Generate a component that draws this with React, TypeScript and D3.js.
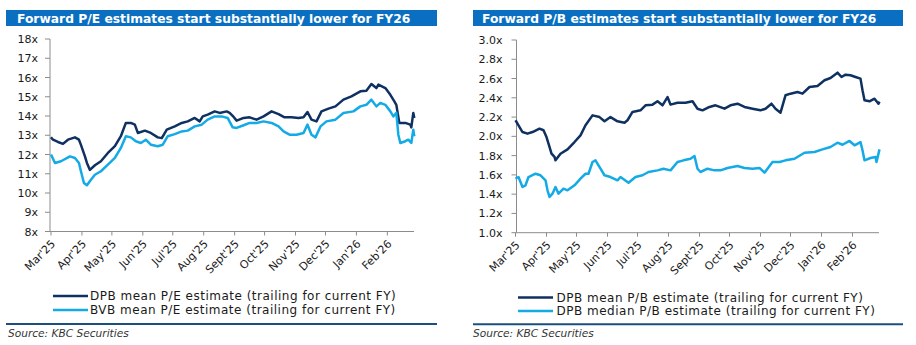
import React from 'react';
import * as d3 from 'd3';

const FONT = "'DejaVu Sans', Verdana, sans-serif";
const DARK = '#0f3161';
const LIGHT = '#14aae6';
const BAR = '#0a6fc0';
const SEP = '#1b4f80';
const AXIS = '#8c8c8c';

const monthTicks = ['2025-03-01','2025-04-01','2025-05-01','2025-06-01','2025-07-01','2025-08-01','2025-09-01','2025-10-01','2025-11-01','2025-12-01','2026-01-01','2026-02-01'];
const monthLabels = ["Mar'25","Apr'25","May'25","Jun'25","Jul'25","Aug'25","Sept'25","Oct'25","Nov'25","Dec'25","Jan'26","Feb'26"];

// Forward P/E — DPB mean
const peMeanDates = ['2025-03-01','2025-03-03','2025-03-08','2025-03-13','2025-03-18','2025-03-25','2025-03-29','2025-03-31','2025-04-04','2025-04-06','2025-04-09','2025-04-14','2025-04-20','2025-04-27','2025-05-04','2025-05-10','2025-05-15','2025-05-20','2025-05-24','2025-05-27','2025-06-03','2025-06-09','2025-06-16','2025-06-20','2025-06-25','2025-07-03','2025-07-10','2025-07-16','2025-07-23','2025-07-28','2025-07-31','2025-08-05','2025-08-12','2025-08-17','2025-08-24','2025-08-27','2025-08-31','2025-09-03','2025-09-10','2025-09-16','2025-09-23','2025-09-30','2025-10-08','2025-10-15','2025-10-21','2025-10-28','2025-11-04','2025-11-09','2025-11-13','2025-11-17','2025-11-22','2025-11-27','2025-12-04','2025-12-11','2025-12-19','2025-12-27','2026-01-05','2026-01-11','2026-01-16','2026-01-21','2026-01-23','2026-01-30','2026-02-04','2026-02-08','2026-02-10','2026-02-13','2026-02-19','2026-02-24','2026-02-25','2026-02-27','2026-02-28'];
const peMeanValues = [12.9,12.77,12.65,12.55,12.77,12.89,12.77,12.5,11.9,11.56,11.2,11.44,11.65,12.08,12.43,12.95,13.64,13.64,13.55,13.12,13.24,13.12,12.89,12.85,13.29,13.46,13.64,13.72,13.9,13.72,13.98,14.07,14.24,14.16,14.24,14.16,13.95,13.76,13.9,13.93,13.81,13.98,14.24,14.1,13.93,13.93,13.9,13.93,14.21,13.81,13.72,14.24,14.38,14.5,14.85,15.02,15.28,15.31,15.66,15.45,15.63,15.45,15.1,14.76,14.58,13.64,13.64,13.55,13.41,14.16,13.9];

// Forward P/E — BVB mean
const peBvbDates = ['2025-03-01','2025-03-05','2025-03-11','2025-03-20','2025-03-25','2025-03-29','2025-03-31','2025-04-03','2025-04-06','2025-04-10','2025-04-14','2025-04-20','2025-04-27','2025-05-04','2025-05-10','2025-05-15','2025-05-20','2025-05-25','2025-05-30','2025-06-04','2025-06-09','2025-06-16','2025-06-21','2025-06-26','2025-07-03','2025-07-10','2025-07-16','2025-07-23','2025-07-30','2025-08-05','2025-08-12','2025-08-19','2025-08-25','2025-08-30','2025-09-03','2025-09-10','2025-09-16','2025-09-23','2025-09-30','2025-10-08','2025-10-15','2025-10-20','2025-10-26','2025-11-02','2025-11-09','2025-11-13','2025-11-17','2025-11-21','2025-11-26','2025-12-02','2025-12-11','2025-12-19','2025-12-29','2026-01-05','2026-01-11','2026-01-16','2026-01-21','2026-01-25','2026-01-30','2026-02-04','2026-02-07','2026-02-10','2026-02-12','2026-02-14','2026-02-19','2026-02-22','2026-02-25','2026-02-27','2026-02-28'];
const peBvbValues = [12.0,11.56,11.65,11.9,11.82,11.56,11.13,10.52,10.4,10.69,10.95,11.13,11.47,11.82,12.34,12.95,12.89,12.69,12.6,12.77,12.51,12.43,12.51,12.95,13.06,13.2,13.24,13.46,13.55,13.81,13.98,13.98,13.9,13.41,13.38,13.52,13.64,13.64,13.72,13.64,13.46,13.2,13.03,13.03,13.12,13.55,13.03,12.89,13.46,13.72,13.81,14.16,14.24,14.5,14.58,14.85,14.5,14.68,14.58,14.24,13.98,14.16,13.03,12.6,12.69,12.77,12.6,13.29,12.95];

// Forward P/B — DPB mean
const pbMeanDates = ['2025-03-01','2025-03-04','2025-03-08','2025-03-13','2025-03-18','2025-03-25','2025-03-29','2025-04-01','2025-04-04','2025-04-06','2025-04-09','2025-04-10','2025-04-15','2025-04-22','2025-04-29','2025-05-05','2025-05-10','2025-05-17','2025-05-24','2025-05-29','2025-06-04','2025-06-11','2025-06-18','2025-06-21','2025-06-26','2025-07-04','2025-07-09','2025-07-16','2025-07-21','2025-07-26','2025-07-31','2025-08-03','2025-08-10','2025-08-18','2025-08-25','2025-08-30','2025-09-04','2025-09-11','2025-09-17','2025-09-26','2025-10-02','2025-10-09','2025-10-16','2025-10-24','2025-11-01','2025-11-06','2025-11-12','2025-11-16','2025-11-21','2025-11-26','2025-12-01','2025-12-08','2025-12-13','2025-12-20','2025-12-28','2026-01-04','2026-01-10','2026-01-17','2026-01-21','2026-01-25','2026-01-30','2026-02-04','2026-02-09','2026-02-11','2026-02-13','2026-02-18','2026-02-23','2026-02-27','2026-02-28'];
const pbMeanValues = [2.167,2.115,2.045,2.028,2.045,2.08,2.063,1.993,1.89,1.82,1.786,1.751,1.82,1.865,1.941,2.01,2.115,2.218,2.2,2.156,2.2,2.156,2.142,2.167,2.253,2.27,2.322,2.329,2.364,2.322,2.408,2.329,2.349,2.349,2.364,2.287,2.27,2.305,2.322,2.287,2.322,2.339,2.305,2.287,2.27,2.287,2.339,2.287,2.246,2.426,2.443,2.46,2.443,2.512,2.523,2.582,2.606,2.661,2.616,2.64,2.634,2.616,2.599,2.478,2.374,2.364,2.391,2.339,2.36];

// Forward P/B — DPB median
const pbMedianDates = ['2025-03-01','2025-03-04','2025-03-08','2025-03-11','2025-03-14','2025-03-21','2025-03-26','2025-03-31','2025-04-02','2025-04-04','2025-04-07','2025-04-10','2025-04-13','2025-04-18','2025-04-22','2025-04-29','2025-05-05','2025-05-10','2025-05-13','2025-05-17','2025-05-20','2025-05-25','2025-05-29','2025-06-04','2025-06-11','2025-06-14','2025-06-22','2025-06-29','2025-07-06','2025-07-12','2025-07-21','2025-07-27','2025-08-03','2025-08-10','2025-08-16','2025-08-23','2025-08-27','2025-08-30','2025-09-02','2025-09-09','2025-09-16','2025-09-22','2025-09-29','2025-10-09','2025-10-16','2025-10-24','2025-10-31','2025-11-05','2025-11-13','2025-11-20','2025-11-26','2025-12-05','2025-12-15','2025-12-25','2026-01-02','2026-01-10','2026-01-17','2026-01-22','2026-01-29','2026-02-03','2026-02-09','2026-02-11','2026-02-13','2026-02-19','2026-02-24','2026-02-25','2026-02-28'];
const pbMedianValues = [1.561,1.578,1.474,1.492,1.578,1.612,1.596,1.544,1.44,1.371,1.405,1.474,1.405,1.457,1.44,1.492,1.561,1.612,1.612,1.734,1.751,1.664,1.596,1.578,1.544,1.578,1.519,1.578,1.596,1.63,1.647,1.664,1.647,1.734,1.751,1.768,1.796,1.664,1.63,1.664,1.647,1.647,1.672,1.692,1.672,1.664,1.672,1.623,1.734,1.734,1.751,1.768,1.83,1.838,1.865,1.89,1.934,1.913,1.952,1.907,1.941,1.855,1.751,1.775,1.786,1.734,1.865];

const peTicks = [8,9,10,11,12,13,14,15,16,17,18];
const pbTicks = [1.0,1.2,1.4,1.6,1.8,2.0,2.2,2.4,2.6,2.8,3.0];

const peTitle = 'Forward P/E estimates start substantially lower for FY26';
const pbTitle = 'Forward P/B estimates start substantially lower for FY26';
const peLegend = ['DPB mean P/E estimate (trailing for current FY)', 'BVB mean P/E estimate (trailing for current FY)'];
const pbLegend = ['DPB mean P/B estimate (trailing for current FY)', 'DPB median P/B estimate (trailing for current FY)'];
const sourceText = 'Source: KBC Securities';

const parse = d3.timeParse('%Y-%m-%d');

type Layout = {
  barX0: number; barX1: number; titleX: number;
  axisX: number; top: number; bottom: number; x0: number; x1: number; axisEnd: number;
  labelGap: number; legX0: number; legX1: number; legTextX: number; legY: number[];
  sepY: number; sourceX: number;
};

function Panel({ layout, title, legend, series, yDomain, yTicks, fmt }: any) {
  const L: Layout = layout;
  const x = d3.scaleTime().domain([parse('2025-03-01')!, parse('2026-03-01')!]).range([L.x0, L.x1]);
  const y = d3.scaleLinear().domain(yDomain).range([L.bottom, L.top]);
  const line = d3.line<[Date, number]>().x(d => x(d[0])).y(d => y(d[1]));
  return (
    <g>
      <rect x={L.barX0} y={10} width={L.barX1 - L.barX0} height={16} fill={BAR} />
      <text x={L.titleX} y={22.8} fill="#fff" fontFamily={FONT} fontWeight="bold" fontSize={12.3}>{title}</text>
      {yTicks.map((t: number) => (
        <g key={t}>
          <line x1={L.axisX - 5} x2={L.axisX} y1={y(t)} y2={y(t)} stroke={AXIS} strokeWidth={1} />
          <text x={L.axisX - L.labelGap} y={y(t) + 4} textAnchor="end" fontFamily={FONT} fontSize={11} fill="#1a1a1a">{fmt(t)}</text>
        </g>
      ))}
      <line x1={L.axisX} x2={L.axisX} y1={L.top} y2={L.bottom} stroke={AXIS} strokeWidth={1} />
      <line x1={L.axisX} x2={L.axisEnd} y1={L.bottom} y2={L.bottom} stroke={AXIS} strokeWidth={1} />
      {monthTicks.map((m, i) => {
        const tx = x(parse(m)!);
        return (
          <g key={m}>
            <line x1={tx} x2={tx} y1={L.bottom} y2={L.bottom + 4} stroke={AXIS} strokeWidth={1} />
            <text transform={`translate(${tx + 5},${L.bottom + 13}) rotate(-45)`} textAnchor="end" fontFamily={FONT} fontSize={11} fill="#1a1a1a">{monthLabels[i]}</text>
          </g>
        );
      })}
      {series.map((s: any, i: number) => (
        <path key={i} d={line(s.dates.map((d: string, j: number) => [parse(d)!, s.values[j]]))!} fill="none" stroke={s.color} strokeWidth={2.5} strokeLinejoin="round" />
      ))}
      {legend.map((t: string, i: number) => (
        <g key={t}>
          <line x1={L.legX0} x2={L.legX1} y1={L.legY[i]} y2={L.legY[i]} stroke={series[i].color} strokeWidth={2.5} />
          <text x={L.legTextX} y={L.legY[i] + 4.3} fontFamily={FONT} fontSize={12} letterSpacing={0.5} fill="#1a1a1a">{t}</text>
        </g>
      ))}
      <line x1={L.barX0} x2={L.barX1} y1={L.sepY} y2={L.sepY} stroke={SEP} strokeWidth={2} />
      <text x={L.sourceX} y={337} fontFamily={FONT} fontStyle="italic" fontSize={10.6} fill="#333">{sourceText}</text>
    </g>
  );
}

export default function App() {
  const leftLayout: Layout = { barX0: 6, barX1: 437, titleX: 17, axisX: 50, top: 39, bottom: 231.5, x0: 51, x1: 415.3, axisEnd: 414, labelGap: 12, legX0: 53, legX1: 88, legTextX: 90, legY: [296, 310], sepY: 324, sourceX: 8 };
  const rightLayout: Layout = { barX0: 473, barX1: 903, titleX: 482, axisX: 516.5, top: 40, bottom: 232.7, x0: 515.5, x1: 880.5, axisEnd: 879, labelGap: 14, legX0: 518, legX1: 553, legTextX: 556.5, legY: [297.5, 311], sepY: 324.3, sourceX: 473 };
  return (
    <svg width={916} height={345} style={{ position: 'absolute', left: 0, top: 0, background: '#fff' }}>
      <rect width={916} height={345} fill="#fff" />
      <Panel layout={leftLayout} title={peTitle} legend={peLegend} yDomain={[8, 18]} yTicks={peTicks} fmt={(t: number) => `${t}x`}
        series={[{ dates: peMeanDates, values: peMeanValues, color: DARK }, { dates: peBvbDates, values: peBvbValues, color: LIGHT }]} />
      <Panel layout={rightLayout} title={pbTitle} legend={pbLegend} yDomain={[1, 3]} yTicks={pbTicks} fmt={(t: number) => `${t.toFixed(1)}x`}
        series={[{ dates: pbMeanDates, values: pbMeanValues, color: DARK }, { dates: pbMedianDates, values: pbMedianValues, color: LIGHT }]} />
    </svg>
  );
}
